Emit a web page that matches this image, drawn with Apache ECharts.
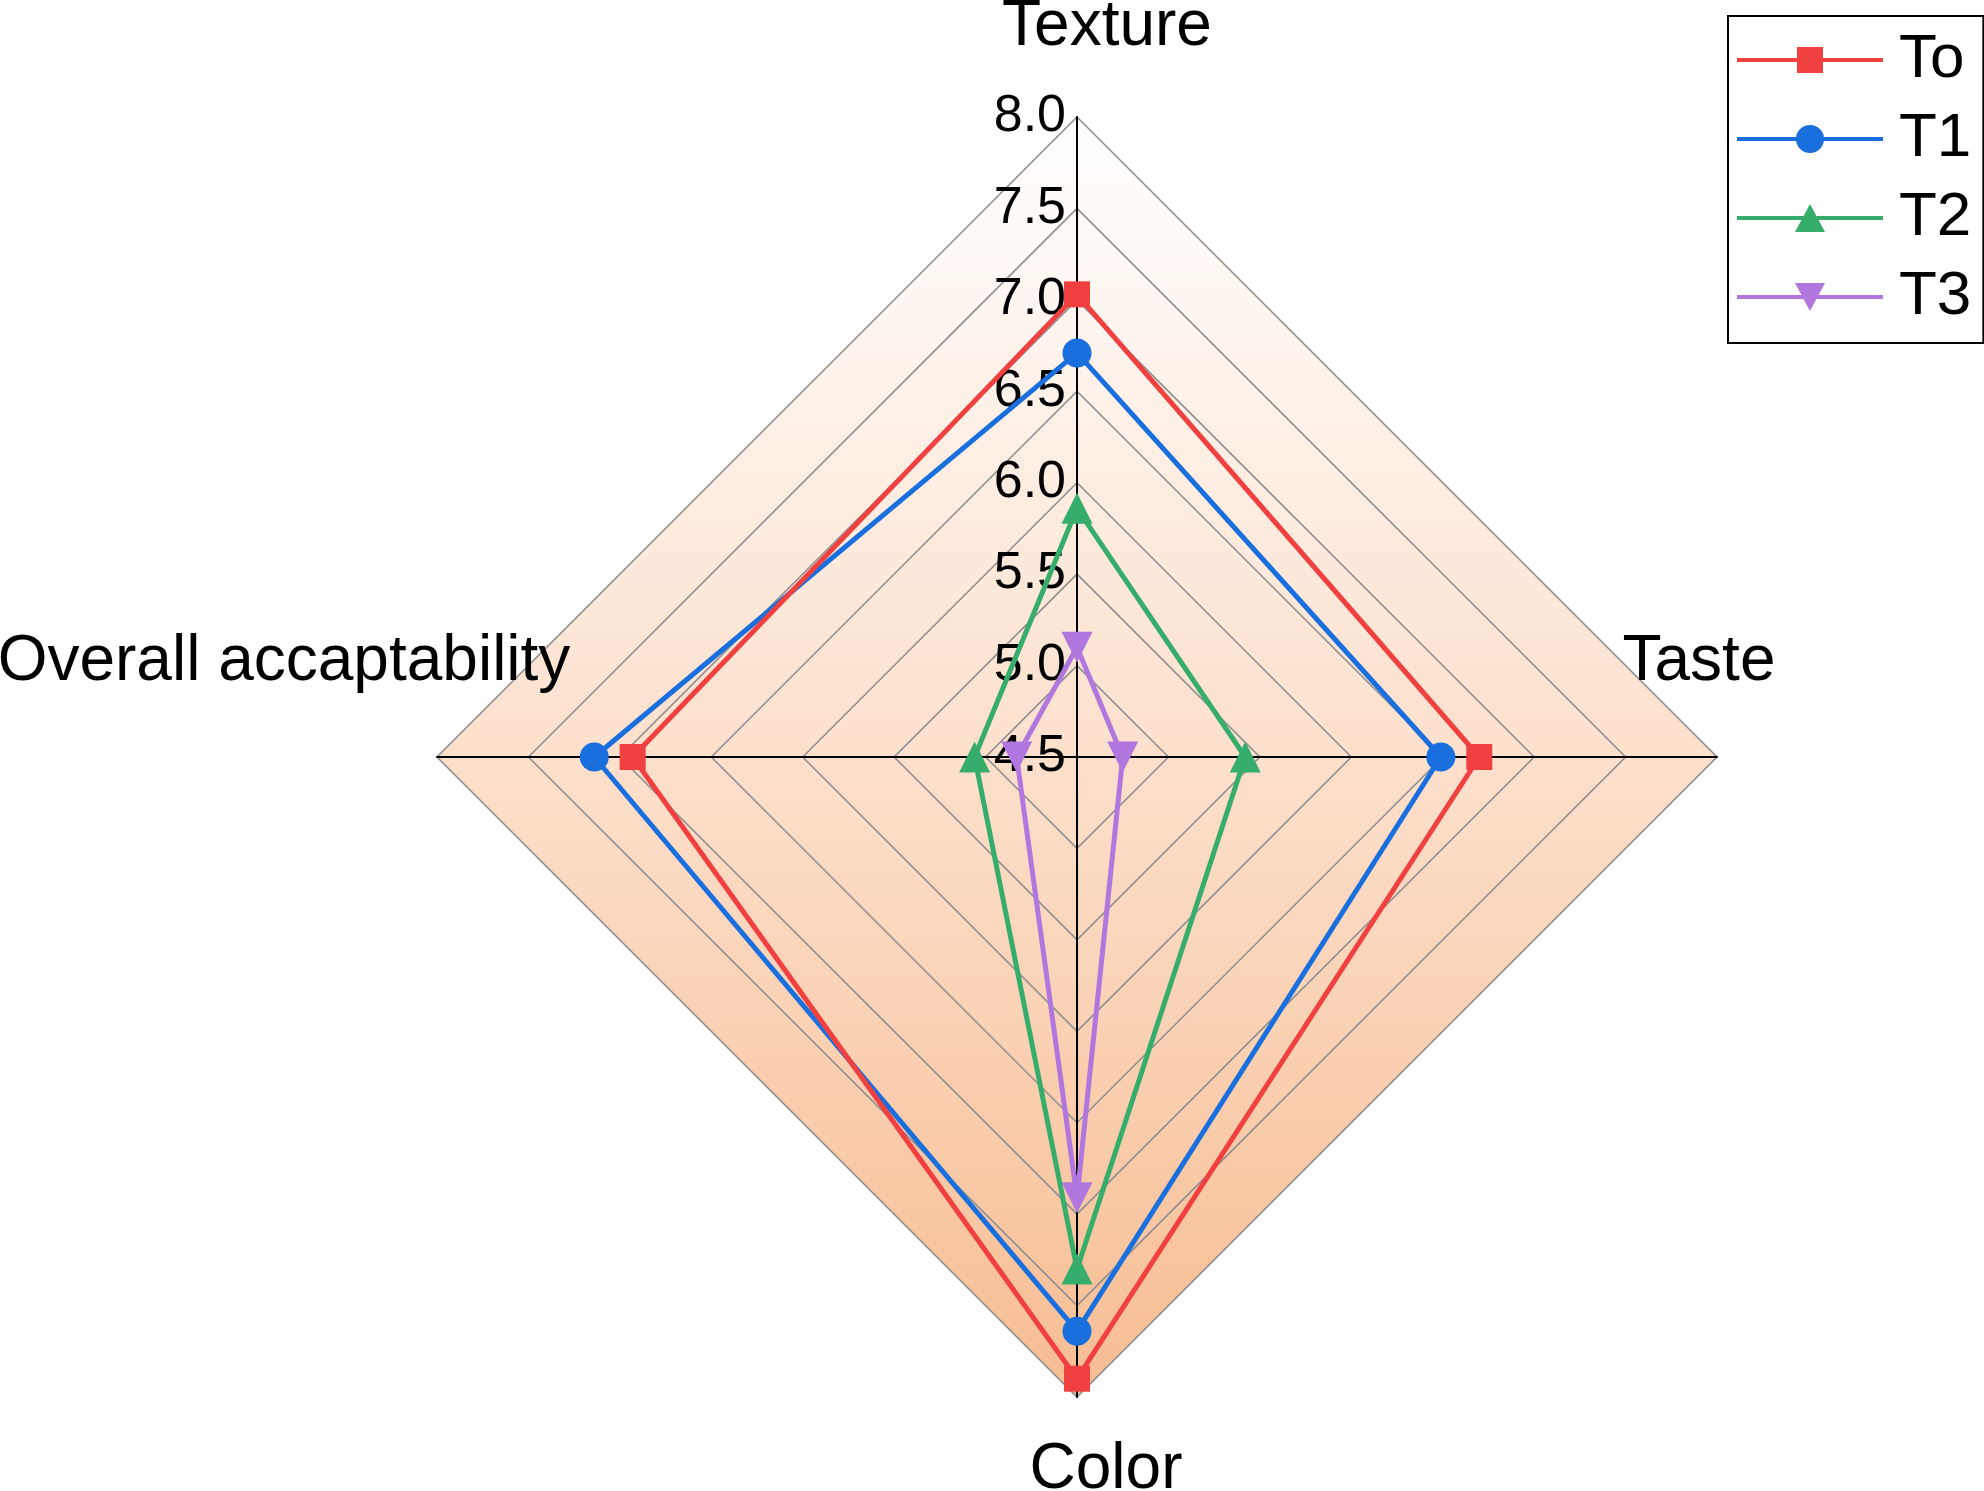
<!DOCTYPE html>
<html>
<head>
<meta charset="utf-8">
<script src="https://cdn.jsdelivr.net/npm/echarts@6/dist/echarts.min.js"></script>
<style>
html,body{margin:0;padding:0;background:#fff;}
#chart{width:1984px;height:1491px;}
</style>
</head>
<body>
<div id="chart"></div>
<script>
// ---- data ----
const indicatorNames = ['Texture', 'Overall accaptability', 'Color', 'Taste'];
const seriesNames = ['To', 'T1', 'T2', 'T3'];
const valuesTo = [7.03, 6.93, 7.90, 6.70];
const valuesT1 = [6.71, 7.14, 7.64, 6.49];
const valuesT2 = [5.86, 5.06, 7.30, 5.42];
const valuesT3 = [5.10, 4.83, 6.91, 4.75];
const axisMin = 4.5;
const axisMax = 8.0;
const axisStep = 0.5;

const colors = ['#F14040', '#1A6FDF', '#37AD6B', '#B177DE'];
const symbols = ['rect', 'circle', 'triangle', 'triangle'];
const symbolRotates = [0, 0, 0, 180];
const symbolSizes = [26, 29, 31, 31];
const legendIcons = [
  'path://M0,12H146V16H0Z M60,1H86V27H60Z',
  'path://M0,12H146V16H0Z M59,14A14,14 0 1,1 87,14A14,14 0 1,1 59,14Z',
  'path://M0,12H146V16H0Z M73,0L88,28L58,28Z',
  'path://M0,12H146V16H0Z M58,0H88L73,28Z'
];
const allValues = [valuesTo, valuesT1, valuesT2, valuesT3];

const font = "'Liberation Sans', Arial, sans-serif";

const nameLayouts = [
  { nameGap: 90, nameTextStyle: { align: 'center', verticalAlign: 'middle', padding: [0, 0, 0, 60] } },
  { nameGap: 153, nameTextStyle: { align: 'center', verticalAlign: 'bottom', padding: [0, 0, 63, 0] } },
  { nameGap: 73, nameTextStyle: { align: 'center', verticalAlign: 'middle', padding: [0, 0, 0, 58] } },
  { nameGap: -18, nameTextStyle: { align: 'center', verticalAlign: 'bottom', padding: [0, 0, 63, 0] } }
];

const indicator = indicatorNames.map((n, i) => {
  const o = Object.assign({ name: n, min: axisMin, max: axisMax }, nameLayouts[i]);
  if (i === 0) {
    o.axisLabel = {
      show: true, margin: 11, fontSize: 52, color: '#000', fontFamily: font,
      formatter: v => Number(v).toFixed(1)
    };
  } else {
    o.axisLabel = { show: false };
  }
  return o;
});

const chart = echarts.init(document.getElementById('chart'));
chart.setOption({
  animation: false,
  backgroundColor: '#ffffff',
  legend: {
    orient: 'vertical',
    left: 1728, top: 16,
    padding: [13, 12, 15, 9],
    borderColor: '#000', borderWidth: 2,
    itemWidth: 146, itemHeight: 28, itemGap: 17,
    selectedMode: false,
    itemStyle: { borderWidth: 0 },
    textStyle: { fontSize: 62, color: '#000', fontFamily: font, padding: [0, 0, 0, 11] },
    data: seriesNames.map((n, i) => ({ name: n, icon: legendIcons[i] }))
  },
  radar: {
    center: [1077, 757],
    radius: 640,
    startAngle: 90,
    shape: 'polygon',
    splitNumber: Math.round((axisMax - axisMin) / axisStep),
    indicator: indicator,
    axisName: { color: '#000', fontSize: 64, fontFamily: font },
    axisLine: { show: true, lineStyle: { color: '#000', width: 2 } },
    axisTick: { show: false },
    axisLabel: { show: false },
    splitLine: { show: true, lineStyle: { color: '#8f8f8f', width: 1.6 } },
    splitArea: {
      show: true,
      areaStyle: {
        color: {
          type: 'linear', x: 0, y: 117, x2: 0, y2: 1397, global: true,
          colorStops: [
            { offset: 0, color: '#ffffff' },
            { offset: 0.5, color: '#fce0cc' },
            { offset: 1, color: '#f7bd92' }
          ]
        }
      }
    }
  },
  series: seriesNames.map((n, i) => ({
    type: 'radar',
    name: n,
    symbol: symbols[i],
    symbolSize: symbolSizes[i],
    symbolRotate: symbolRotates[i],
    lineStyle: { color: colors[i], width: 5 },
    itemStyle: { color: colors[i], borderWidth: 0 },
    emphasis: { disabled: true },
    z: 10 - i,
    data: [{ name: n, value: allValues[i] }]
  }))
});
</script>
</body>
</html>
